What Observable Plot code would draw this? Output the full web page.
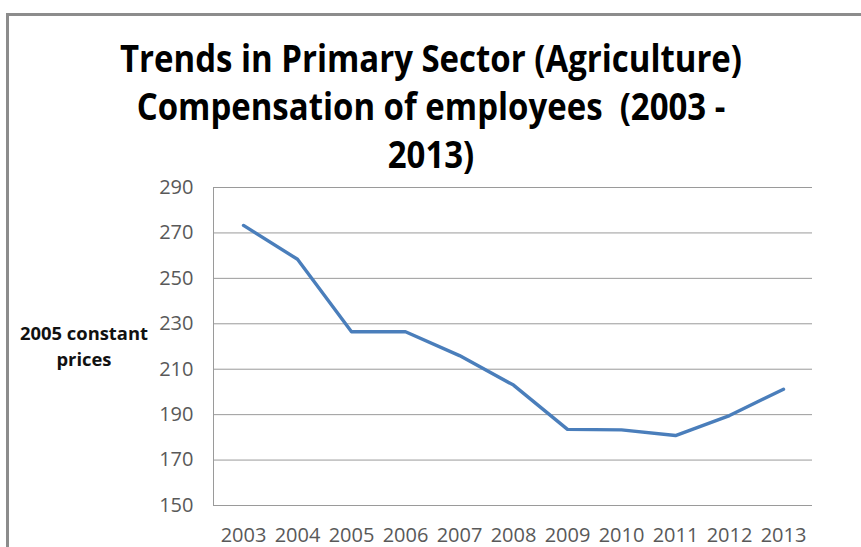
<!DOCTYPE html>
<html>
<head>
<meta charset="utf-8">
<script src="https://cdn.jsdelivr.net/npm/d3@7"></script>
<script src="https://cdn.jsdelivr.net/npm/@observablehq/plot@0.6"></script>
<style>
  html, body { margin: 0; padding: 0; background: #fff; overflow: hidden; }
  #wrap { position: relative; width: 861px; height: 547px; overflow: hidden; }
  #box { position: absolute; left: 6px; top: 13px; width: 900px; height: 600px;
         border: 3px solid #8c8c8c; box-sizing: border-box; }
  #title { position: absolute; left: 7px; width: 848px; top: 33px; text-align: center;
           font-family: "Open Sans", sans-serif; font-weight: 700; font-size: 38px;
           line-height: 48px; color: #000; transform-origin: 50% 0; white-space: nowrap; }
  #ylab { position: absolute; left: 12px; width: 144px; top: 320px; text-align: center;
          font-family: "Open Sans", sans-serif; font-weight: 700; font-size: 18px;
          line-height: 26px; color: #111; white-space: nowrap; }
  #chart { position: absolute; left: 0; top: 0; }
</style>
</head>
<body>
<div id="wrap">
  <div id="box"></div>
  <div id="title"><span id="t1">Trends in Primary Sector (Agriculture)</span><br><span>Compensation of employees&nbsp; (2003 -</span><br><span>2013)</span></div>
  <div id="ylab"><span id="yl1">2005 constant</span><br>prices</div>
  <div id="chart"></div>
</div>
<script>
const years = ["2003","2004","2005","2006","2007","2008","2009","2010","2011","2012","2013"];
const values = [273.3, 258.4, 226.5, 226.5, 216, 203, 183.5, 183.3, 180.8, 189.6, 201.2];
const yTicks = [150, 170, 190, 210, 230, 250, 270, 290];

const data = years.map((y, i) => ({year: y, value: values[i]}));

const plot = Plot.plot({
  width: 861,
  height: 547,
  marginLeft: 213,
  marginRight: 49,
  marginTop: 187,
  marginBottom: 42,
  style: {fontFamily: "'Open Sans', sans-serif", fontSize: "20px", color: "#595959", background: "transparent"},
  x: {type: "point", domain: years, padding: 0.5, label: null},
  y: {domain: [150, 290], label: null},
  marks: [
    Plot.gridY(yTicks, {stroke: "#9a9a9a", strokeOpacity: 1, strokeWidth: 1}),
    Plot.frame({anchor: "left", stroke: "#9a9a9a", strokeWidth: 1}),
    Plot.axisY({ticks: yTicks, tickSize: 0, tickPadding: 20, label: null, fill: "#595959"}),
    Plot.axisX({tickSize: 0, tickPadding: 22, label: null, fill: "#595959"}),
    Plot.line(data, {x: "year", y: "value", stroke: "#4a7ebb", strokeWidth: 3.4, strokeLinejoin: "round"})
  ]
});
document.getElementById("chart").appendChild(plot);

// condense text to match the narrow original typeface
const t1 = document.getElementById("t1");
const k = 622 / t1.getBoundingClientRect().width;
document.getElementById("title").style.transform = `scaleX(${k})`;
const yl1 = document.getElementById("yl1");
const k2 = 128 / yl1.getBoundingClientRect().width;
const ylab = document.getElementById("ylab");
ylab.style.transform = `scaleX(${k2})`;
</script>
</body>
</html>
